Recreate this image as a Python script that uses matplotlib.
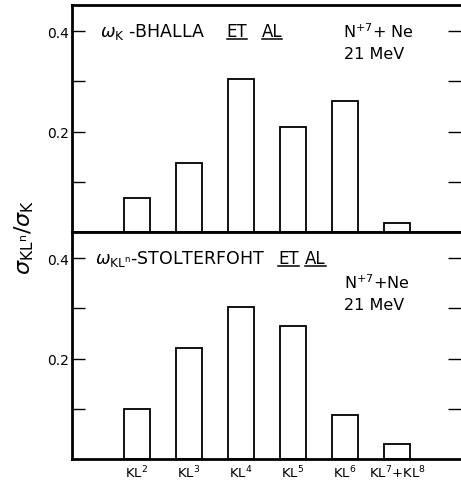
import numpy as np
import matplotlib.pyplot as plt
from matplotlib.lines import Line2D

plt.rcParams['font.family'] = ['DejaVu Sans']
plt.rcParams['mathtext.fontset'] = 'dejavusans'

labels = [r'KL$^2$', r'KL$^3$', r'KL$^4$', r'KL$^5$', r'KL$^6$', r'KL$^7$+KL$^8$']
bhalla = [0.068, 0.137, 0.304, 0.209, 0.260, 0.018]
stolterfoht = [0.099, 0.221, 0.303, 0.265, 0.087, 0.030]
yticks = [0.1, 0.2, 0.3, 0.4]
yticklabels = ['', '0.2', '', '0.4']

fig = plt.figure(figsize=(4.61, 4.85), dpi=100)
ax1 = fig.add_axes([0.156, 0.5196, 0.844, 0.468])
ax2 = fig.add_axes([0.156, 0.0515, 0.844, 0.468])

x = np.arange(len(labels))
for ax, vals in [(ax1, bhalla), (ax2, stolterfoht)]:
    ax.bar(x, vals, width=0.5, facecolor='white', edgecolor='black', linewidth=1.3)
    ax.set_xlim(-1.25, 6.23)
    ax.set_ylim(0, 0.452)
    ax.set_yticks(yticks)
    ax.set_yticklabels(yticklabels, fontsize=10)
    ax.tick_params(axis='y', direction='in', length=9.5, width=1, left=True, right=True, pad=2)
    ax.tick_params(axis='x', length=0)
    ax.spines['right'].set_visible(False)
    for s in ['left', 'top', 'bottom']:
        ax.spines[s].set_linewidth(2)

ax1.set_xticks([])
ax2.set_xticks(x)
ax2.set_xticklabels(labels, fontsize=9.5)

# text annotations
fs = 12.5
ax1.text(0.072, 0.885, r'$\omega_\mathrm{K}$ -BHALLA', transform=ax1.transAxes, fontsize=fs, va='center')
et1 = ax1.text(0.398, 0.885, 'ET', transform=ax1.transAxes, fontsize=12, va='center')
al1 = ax1.text(0.488, 0.885, 'AL', transform=ax1.transAxes, fontsize=12, va='center')
ax1.text(0.697, 0.885, r'N$^{+7}$+ Ne', transform=ax1.transAxes, fontsize=11.5, va='center')
ax1.text(0.700, 0.785, '21 MeV', transform=ax1.transAxes, fontsize=11.5, va='center')

ax2.text(0.059, 0.885, r'$\omega_\mathrm{KL^n}$-STOLTERFOHT', transform=ax2.transAxes, fontsize=fs, va='center')
et2 = ax2.text(0.530, 0.885, 'ET', transform=ax2.transAxes, fontsize=12, va='center')
al2 = ax2.text(0.600, 0.885, 'AL', transform=ax2.transAxes, fontsize=12, va='center')
ax2.text(0.700, 0.78, r'N$^{+7}$+Ne', transform=ax2.transAxes, fontsize=11.5, va='center')
ax2.text(0.700, 0.68, '21 MeV', transform=ax2.transAxes, fontsize=11.5, va='center')

fig.text(0.052, 0.51, r'$\sigma_\mathrm{KL^n}/\sigma_\mathrm{K}$', rotation=90, fontsize=16,
         ha='center', va='center')

# underline ET AL
fig.canvas.draw()
r = fig.canvas.get_renderer()
for t in [et1, al1, et2, al2]:
    bb = t.get_window_extent(r).transformed(fig.transFigure.inverted())
    y = bb.y0 + 0.002
    fig.add_artist(Line2D([bb.x0, bb.x1], [y, y], color='black', linewidth=1.1))

fig.savefig('out.png', dpi=100)
